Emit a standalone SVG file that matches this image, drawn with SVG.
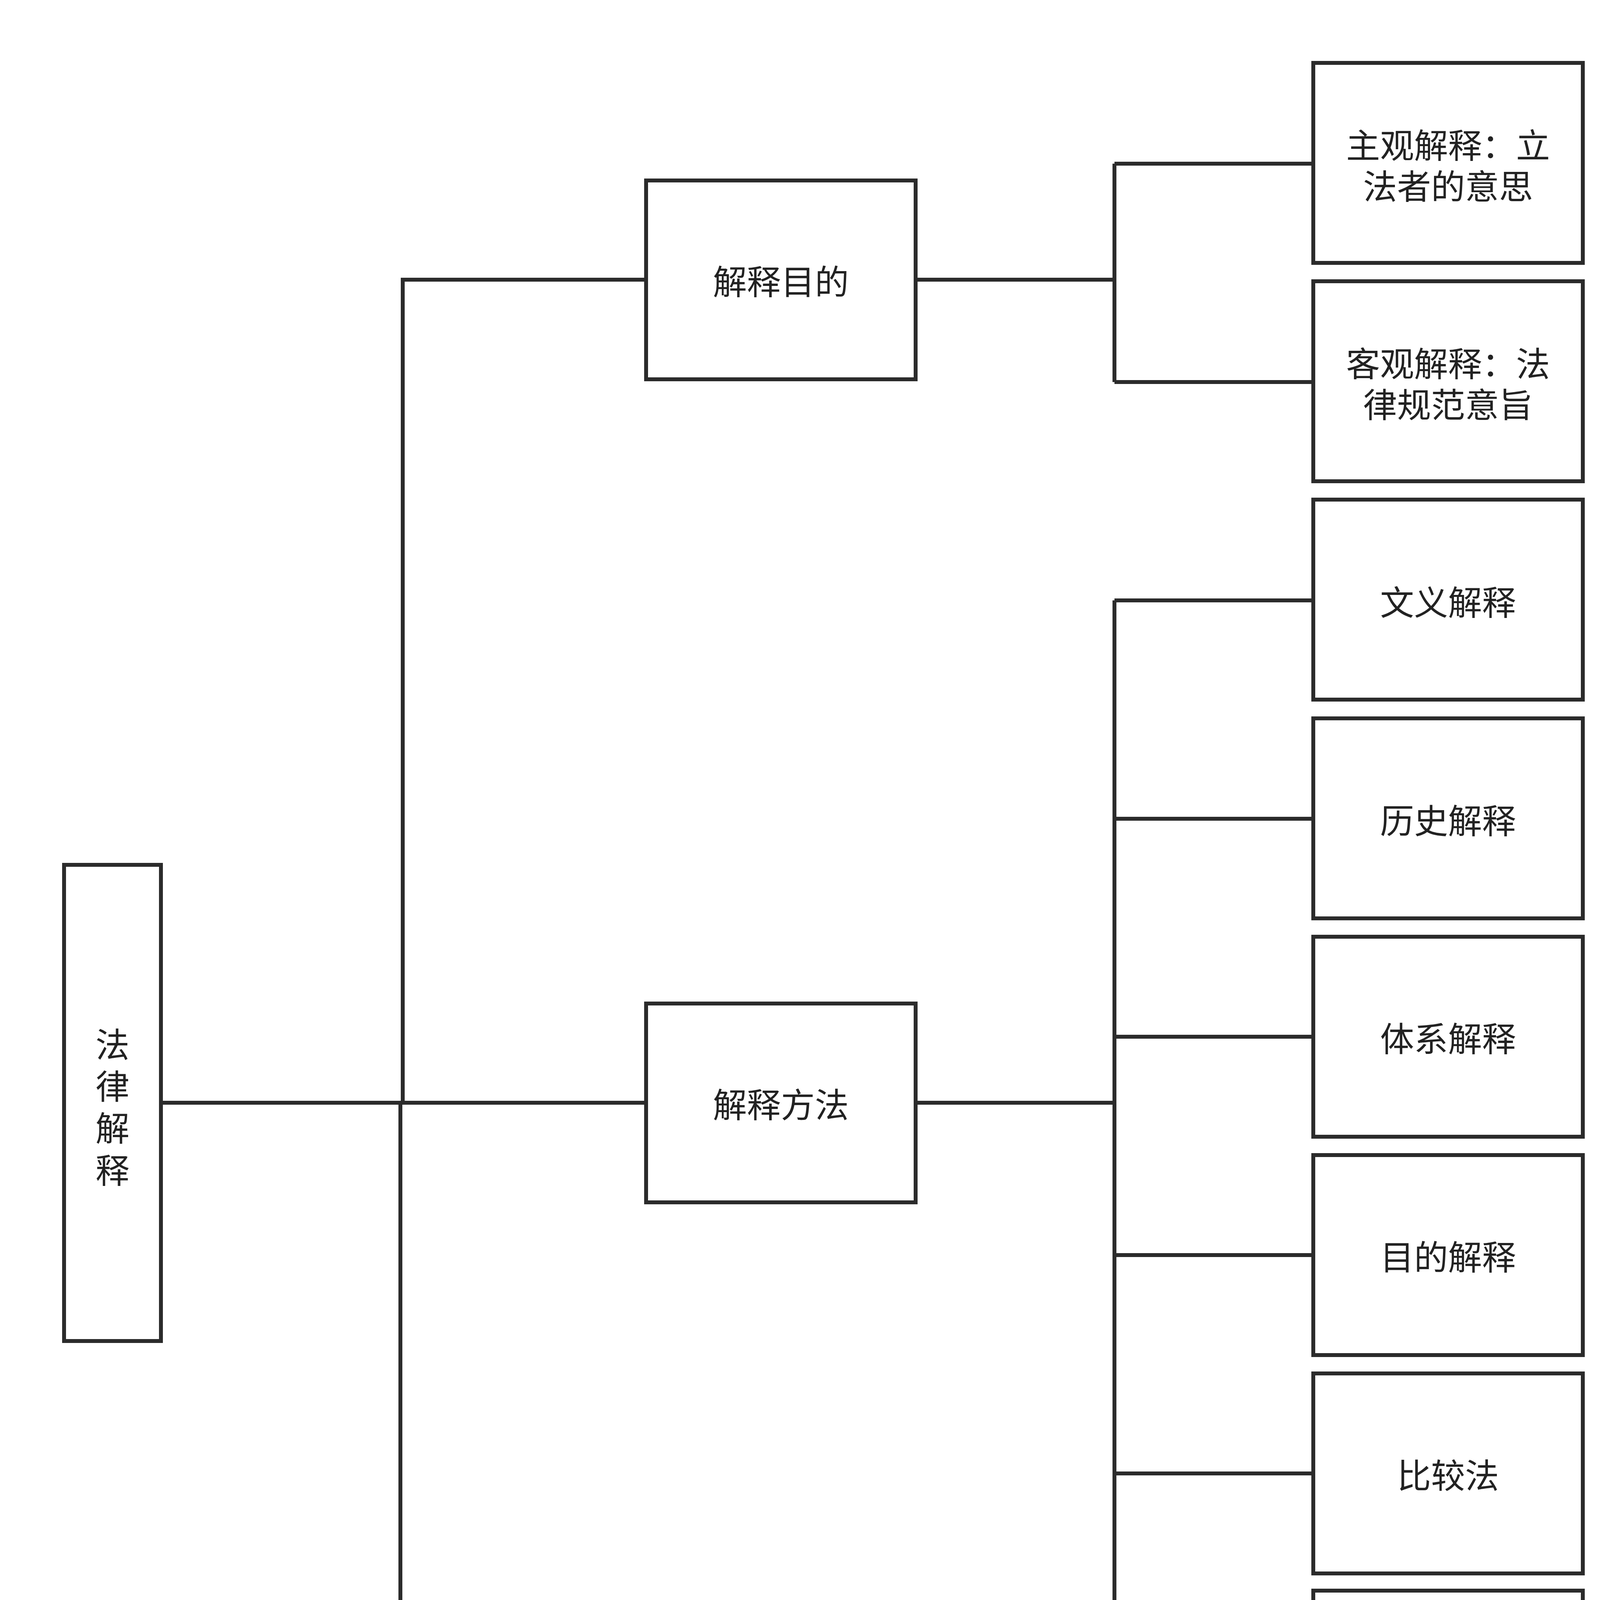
<svg xmlns="http://www.w3.org/2000/svg" width="4220" height="5251" viewBox="0 0 4220 5251">
<style>
.b{fill:#fff;stroke:#2b2b2b;stroke-width:10}
.t{font-family:"Noto Sans CJK SC",sans-serif;font-size:87px;fill:#222;text-anchor:middle;dominant-baseline:central}
.c{fill:none;stroke:#2b2b2b;stroke-width:10}
</style>
<rect width="4220" height="5251" fill="#fff"/>
<g id="connectors" class="c">
<path d="M412 2823H1654M1031 2823V716H1654M1025 2823V4835H1654"/>
<path d="M2344 716H2853M2853 419V978M2853 419H3362M2853 978H3362"/>
<path d="M2344 2823H2853M2853 1537V4307M2853 1537H3362M2853 2096H3362M2853 2654H3362M2853 3213H3362M2853 3772H3362M2853 4307H3362"/>
</g>
<g id="root"><rect class="b" x="164" y="2214" width="248" height="1219"/>
<text class="t" x="288" y="2669">法</text><text class="t" x="288" y="2776">律</text><text class="t" x="288" y="2883">解</text><text class="t" x="288" y="2991">释</text></g>
<g id="purpose"><rect class="b" x="1654" y="462" width="690" height="509"/><text class="t" x="1999" y="716">解释目的</text></g>
<g id="method"><rect class="b" x="1654" y="2569" width="690" height="509"/><text class="t" x="1999" y="2823">解释方法</text></g>
<g id="objective"><rect class="b" x="1654" y="4581" width="690" height="509"/><text class="t" x="1999" y="4835">客观性解释</text></g>
<g id="subj"><rect class="b" x="3362" y="161" width="690" height="512"/><text class="t" x="3707" y="367">主观解释：立</text><text class="t" x="3707" y="472">法者的意思</text></g>
<g id="obj"><rect class="b" x="3362" y="720" width="690" height="512"/><text class="t" x="3707" y="926">客观解释：法</text><text class="t" x="3707" y="1031">律规范意旨</text></g>
<g id="m1"><rect class="b" x="3362" y="1279" width="690" height="512"/><text class="t" x="3707" y="1537">文义解释</text></g>
<g id="m2"><rect class="b" x="3362" y="1839" width="690" height="512"/><text class="t" x="3707" y="2096">历史解释</text></g>
<g id="m3"><rect class="b" x="3362" y="2398" width="690" height="512"/><text class="t" x="3707" y="2654">体系解释</text></g>
<g id="m4"><rect class="b" x="3362" y="2957" width="690" height="512"/><text class="t" x="3707" y="3213">目的解释</text></g>
<g id="m5"><rect class="b" x="3362" y="3516" width="690" height="512"/><text class="t" x="3707" y="3772">比较法</text></g>
<g id="m6"><rect class="b" x="3362" y="4072" width="690" height="469"/><text class="t" x="3707" y="4307">合宪解释</text></g>
<text x="3332" y="5131" font-family="Noto Sans CJK SC,sans-serif" font-size="120" fill="#c8c8c8">知乎 @刘六六</text>
</svg>
